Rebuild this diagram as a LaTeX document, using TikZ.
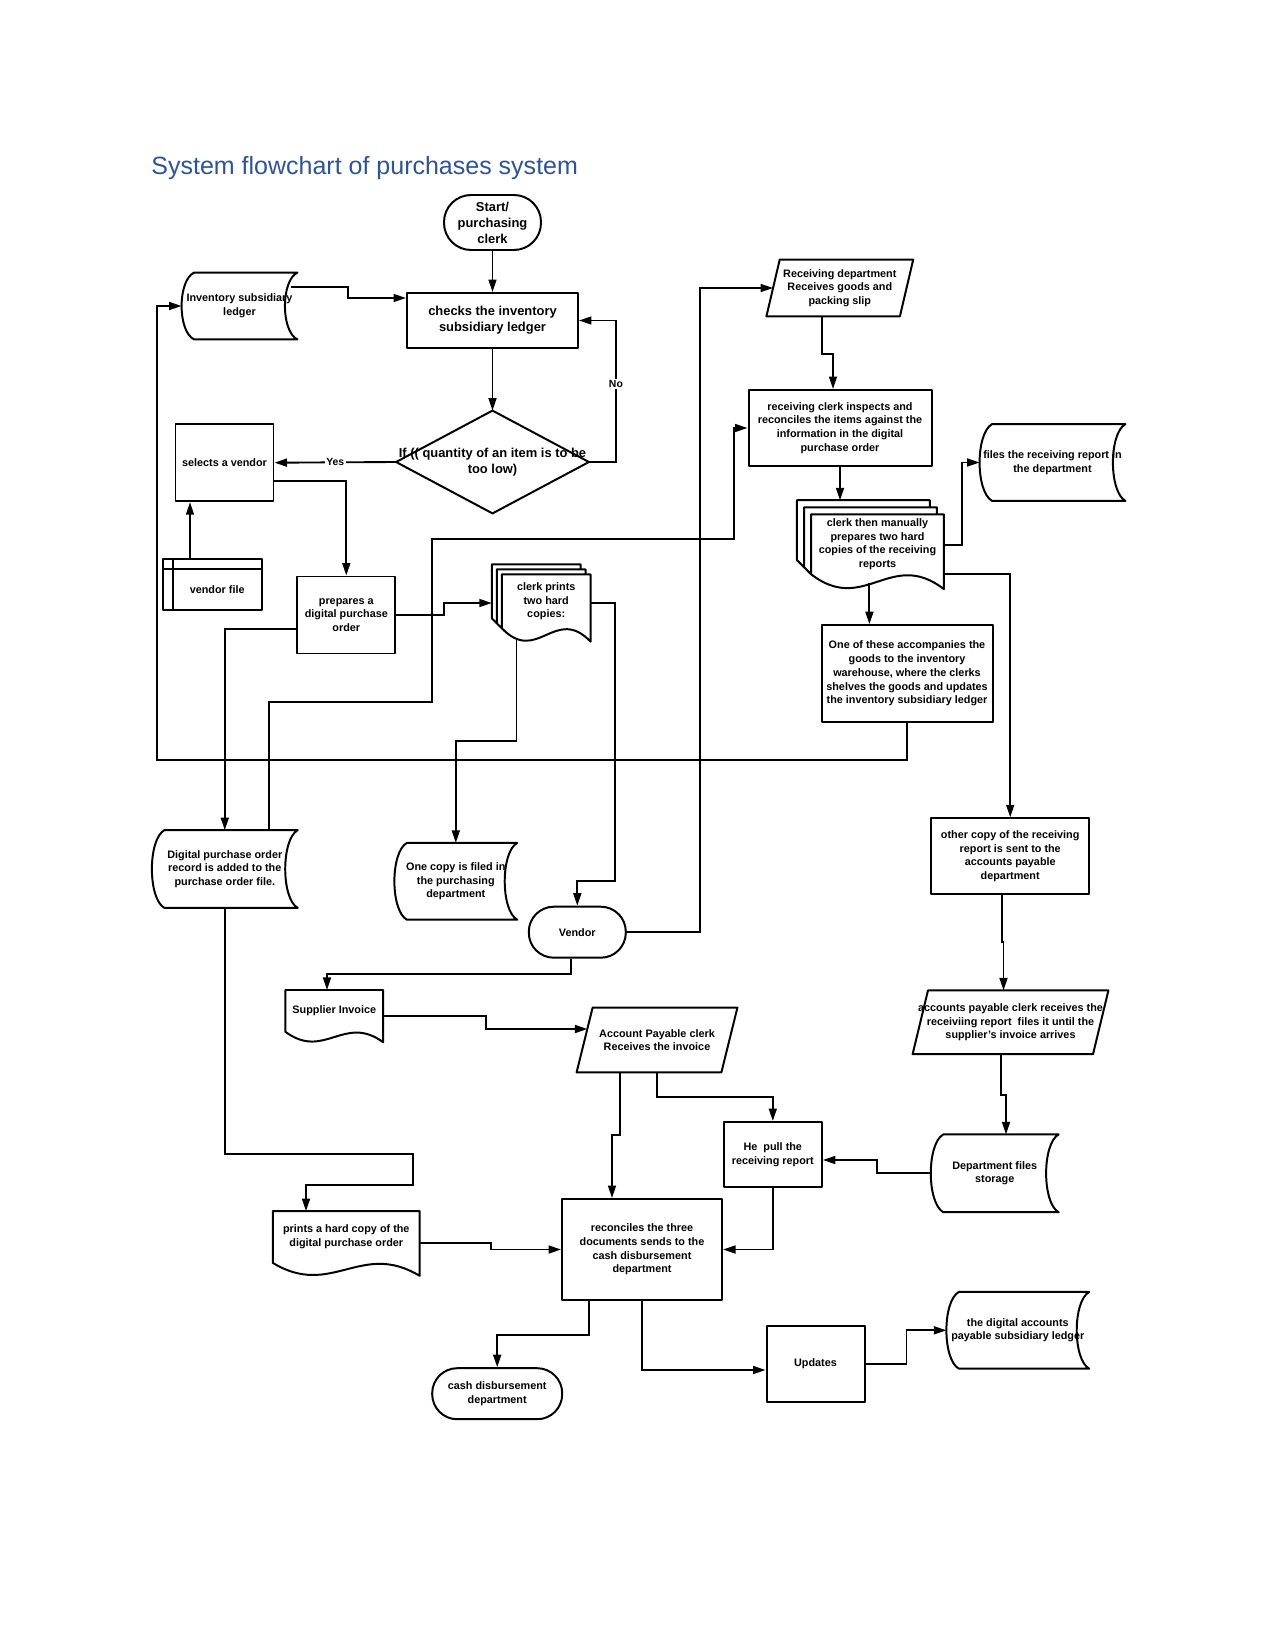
\documentclass[tikz,border=0pt]{standalone}
\usepackage{fontspec}
\setmainfont{Liberation Sans}
\usetikzlibrary{arrows.meta, calc, shapes.misc}
\definecolor{ttlblue}{HTML}{2F5496}
\tikzset{
  >={Triangle[length=6pt,width=3.8pt]},
  sz/.style 2 args={minimum width=#1*0.48pt, minimum height=#2*0.48pt},
  base/.style={inner sep=1pt, align=center, font=\fontsize{5.2}{6.6}\selectfont\bfseries},
  big/.style={font=\fontsize{6.2}{7.7}\selectfont\bfseries},
  ttl/.style={font=\fontsize{12}{14}\selectfont, text=ttlblue, inner sep=0pt},
  shp/.style={line width=0.95pt, line join=round},
  proc/.style={base, draw, shp},
  term/.style={base, draw, shp, rounded corners=#1},
  term/.default=12pt,
  decis/.style={base, append after command={\pgfextra{
    \draw[shp] (\tikzlastnode.north) -- (\tikzlastnode.east) -- (\tikzlastnode.south)
      -- (\tikzlastnode.west) -- cycle;}}},
  io/.style={base, append after command={\pgfextra{
    \draw[shp] let \p1=(\tikzlastnode.north west), \p2=(\tikzlastnode.south east) in
      (\x1+#1,\y1) -- (\x2,\y1) -- (\x2-#1,\y2) -- (\x1,\y2) -- cycle;}}},
  stored/.style={base, append after command={\pgfextra{
    \draw[shp] let \p1=(\tikzlastnode.north west), \p2=(\tikzlastnode.south east) in
      (\x1+6pt,\y1) -- (\x2,\y1)
      .. controls (\x2-8pt,{\y1-0.12*(\y1-\y2)}) and (\x2-8pt,{\y2+0.12*(\y1-\y2)}) .. (\x2,\y2)
      -- (\x1+6pt,\y2)
      .. controls (\x1-2pt,{\y2+0.12*(\y1-\y2)}) and (\x1-2pt,{\y1-0.12*(\y1-\y2)}) .. cycle;}}},
  store/.style={base, append after command={\pgfextra{
    \draw[shp] ($(\tikzlastnode.north west)+(-10,-10)$) rectangle (\tikzlastnode.south east)
      ($(\tikzlastnode.north west)+(0,-10)$) -- (\tikzlastnode.south west)
      ($(\tikzlastnode.north west)+(-10,0)$) -- (\tikzlastnode.north east);}}},
  docu/.style={base, append after command={\pgfextra{
    \draw[shp] let \p1=(\tikzlastnode.north west), \p2=(\tikzlastnode.south east) in
      (\x1,\y1) -- (\x2,\y1) -- (\x2,{\y2-0.25*(\y1-\y2)})
      .. controls ({\x1+0.6*(\x2-\x1)},{\y1-0.5625*(\y1-\y2)})
              and ({\x1+0.4*(\x2-\x1)},{\y1-1.6875*(\y1-\y2)}) .. (\x1,\y2) -- cycle;}}},
  mdoc/.style={base, append after command={\pgfextra{
    \draw[shp] let \p1=(\tikzlastnode.north west), \p2=(\tikzlastnode.south east) in
      (\x1,\y1) -- (\x2,\y1) -- (\x2,{\y2-0.25*(\y1-\y2)})
      .. controls ({\x1+0.6*(\x2-\x1)},{\y1-0.5625*(\y1-\y2)})
              and ({\x1+0.4*(\x2-\x1)},{\y1-1.6875*(\y1-\y2)}) .. (\x1,\y2) -- cycle
      (\x2-#1,\y1) -- (\x2-#1,\y1+#1) -- (\x1-#1,\y1+#1) -- (\x1-#1,\y2+#1) -- (\x1,\y2)
      (\x2-2*#1,\y1+#1) -- (\x2-2*#1,\y1+2*#1) -- (\x1-2*#1,\y1+2*#1)
      -- (\x1-2*#1,\y2+2*#1) -- (\x1-#1,\y2+#1);}}},
  conn/.style={->, line width=0.9pt},
  lbl/.style={fill=white, inner sep=0.6pt, font=\fontsize{5}{6}\selectfont\bfseries}
}

\begin{document}
\begin{tikzpicture}[x=0.48pt, y=-0.48pt]
  \fill[white] (0,0) rectangle (1275,1651);
  \useasboundingbox (0,0) rectangle (1275,1651);

  \node[ttl, anchor=base west] (title) at (151,175) {System flowchart of purchases system};

  \node[term=13pt, big, sz={97}{55}] (start) at (492.5,222.5) {Start/\\purchasing\\clerk};
  \node[proc, big, sz={171}{55}] (checks) at (492.5,320.5) {checks the inventory\\subsidiary ledger};
  \node[decis, big, sz={192}{102}] (decision) at (492.5,462) {If (( quantity of an item is to be\\too low)};
  \node[stored, sz={115}{66}] (invledger) at (239.5,306) {Inventory subsidiary\\ledger};
  \node[proc, sz={98}{77}] (vendorsel) at (224.5,462.7) {selects a vendor};
  \node[store, sz={88}{40}] (vendorfile) at (217.2,589.3) {vendor file};
  \node[proc, sz={98}{77}] (prepares) at (346.3,615) {prepares a\\digital purchase\\order};
  \node[mdoc=2.4pt, sz={88}{53}] (printcopies) at (546.2,601.3) {clerk prints\\two hard\\copies:};
  \node[io=6.4pt, sz={146}{56}] (recdept) at (839.8,288) {Receiving department\\Receives goods and\\packing slip};
  \node[proc, sz={183}{76}] (inspect) at (840,428) {receiving clerk inspects and\\reconciles the items against the\\information in the digital\\purchase order};
  \node[mdoc=3.4pt, sz={132}{59}] (manual) at (877.5,544.3) {clerk then manually\\prepares two hard\\copies of the receiving\\reports};
  \node[stored, sz={145}{76}] (filesrep) at (1052.5,462.5) {files the receiving report in\\the department};
  \node[proc, sz={171}{97}] (accomp) at (907,673.7) {One of these accompanies the\\goods to the inventory\\warehouse, where the clerks\\shelves the goods and updates\\the inventory subsidiary ledger};
  \node[stored, sz={145}{77}] (porecord) at (224.8,869) {Digital purchase order\\record is added to the\\purchase order file.};
  \node[stored, sz={122}{76}] (onecopy) at (455.8,881.3) {One copy is filed in\\the purchasing\\department};
  \node[term, sz={97}{51}] (vendor) at (577.3,932.2) {Vendor};
  \node[proc, sz={158}{76}] (othercopy) at (1010.2,856.3) {other copy of the receiving\\report is sent to the\\accounts payable\\department};
  \node[docu, sz={97}{41}] (suppinv) at (334.3,1010.9) {Supplier Invoice};
  \node[io=7.7pt, sz={160}{64}] (apclerk) at (657,1040) {Account Payable clerk\\Receives the invoice};
  \node[io=7.4pt, sz={195}{63}] (aprecv) at (1010.5,1022.3) {accounts payable clerk receives the\\receiviing report\ \ files it until the\\supplier’s invoice arrives};
  \node[proc, sz={98}{65}] (hepull) at (772.8,1154.5) {He\ \ pull the\\receiving report};
  \node[stored, sz={127}{77}] (deptfiles) at (994.7,1173.3) {Department files\\storage};
  \node[docu, sz={146}{51}] (hardcopy) at (346.3,1237) {prints a hard copy of the\\digital purchase order};
  \node[proc, sz={160}{101}] (reconcile) at (642,1249.5) {reconciles the three\\documents sends to the\\cash disbursement\\department};
  \node[term, sz={130}{51}] (cashdept) at (497.2,1393.7) {cash disbursement\\department};
  \node[proc, sz={98}{76}] (updates) at (815.5,1363.8) {Updates};
  \node[stored, sz={142}{76}] (apledger) at (1017.8,1330.3) {the digital accounts\\payable subsidiary ledger};

  \draw[conn] (start.south) -- (checks.north);
  \draw[conn] ($(invledger.north east)+(-6,14)$) -| (348,298) -- (checks.west |- 348,298);
  \draw[conn] (checks.south) -- (decision.north);
  \draw[conn] (decision.east) -- ++(27,0) |- node[lbl, pos=0.275]{No} (checks.east);
  \draw[conn] (decision.west) -- node[lbl]{Yes} (vendorsel.east);
  \draw[conn] ($(vendorfile.north -| 190,0)+(0,-10)$) -- (vendorsel.south -| 190,0);
  \draw[conn] (vendorsel.east |- 0,481) -| (prepares.north);
  \draw[conn] (prepares.east) -| (444,603) -- ($(printcopies.west |- 444,603)+(-10,0)$);
  \draw[conn] ($(prepares.west)+(0,14)$) -| (porecord.north);
  \draw[conn] (porecord.north -| 269,0) |- (432,702) |- (734,539) |- (inspect.west);
  \draw[conn] (accomp.south) |- (157,760) |- (invledger.west);
  \draw[conn] ($(printcopies.south west)+(14.7,10)$) |- (onecopy.north |- 0,741) -- (onecopy.north);
  \draw[conn] (printcopies.east |- 0,603) -| (615,881) -| (vendor.north);
  \draw[conn] (vendor.east) -| (700,288) -- ($(recdept.west)+(6.7,0)$);
  \draw[conn] (recdept.south -| 822,0) |- (833,354) -- (inspect.north -| 833,0);
  \draw[conn] (inspect.south) -- ($(manual.north -| inspect.south)+(0,-14)$);
  \draw[conn] (manual.east |- 0,545) -- ++(17.7,0) |- (filesrep.west);
  \draw[conn] ($(manual.south west)+(58.3,8.8)$) coordinate (mb) -- (mb |- accomp.north);
  \draw[conn] (manual.east |- 0,574) -| (othercopy.north);
  \draw[conn] (othercopy.south -| 1002,0) |- (1003.5,942) -- (aprecv.north -| 1003.5,0);
  \draw[conn] (aprecv.south -| 1001,0) |- (1006,1095) -- (deptfiles.north -| 1006,0);
  \draw[conn] (deptfiles.west) -| (877,1160) -- (hepull.east |- 877,1160);
  \draw[conn] (vendor.south -| 571,0) |- (327,974) -- (suppinv.north -| 327,0);
  \draw[conn] (suppinv.east |- 0,1016) -| (486,1029) -- ($(apclerk.west |- 486,1029)+(10.8,0)$);
  \draw[conn] (apclerk.south -| 620,0) |- (612,1135) -- (reconcile.north -| 612,0);
  \draw[conn] (apclerk.south) |- (hepull.north |- 0,1097) -- (hepull.north);
  \draw[conn] (hepull.south) |- (reconcile.east);
  \draw[conn] (porecord.south) |- (413,1154) |- (306,1185) -- (hardcopy.north -| 306,0);
  \draw[conn] (hardcopy.east |- 0,1243) -| (491,1249.5) -- (reconcile.west);
  \draw[conn] (reconcile.south -| 589,0) |- (cashdept.north |- 0,1335) -- (cashdept.north);
  \draw[conn] (reconcile.south) |- (updates.west |- 0,1370);
  \draw[conn] (updates.east) -- ++(41,0) |- (apledger.west);
\end{tikzpicture}
\end{document}
